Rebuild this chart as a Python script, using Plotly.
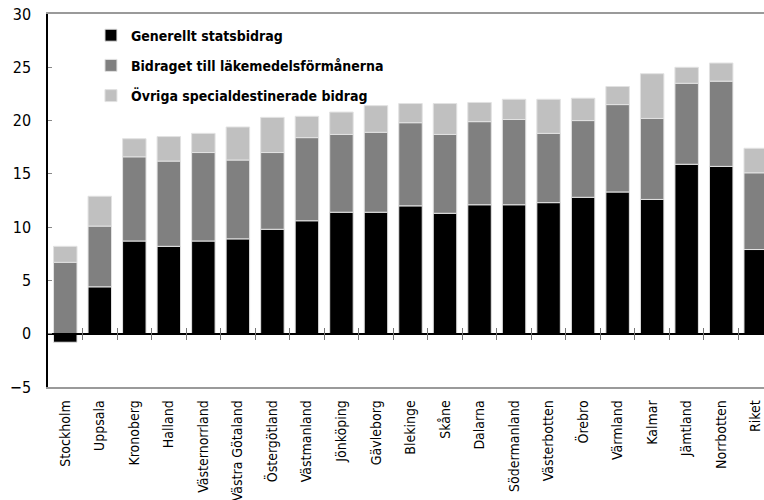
import plotly.graph_objects as go

categories = ["Stockholm", "Uppsala", "Kronoberg", "Halland", "Västernorrland",
              "Västra Götaland", "Östergötland", "Västmanland", "Jönköping", "Gävleborg",
              "Blekinge", "Skåne", "Dalarna", "Södermanland", "Västerbotten",
              "Örebro", "Värmland", "Kalmar", "Jämtland", "Norrbotten", "Riket"]
generellt = [-0.8, 4.4, 8.7, 8.2, 8.7, 8.9, 9.8, 10.6, 11.4, 11.4,
             12.0, 11.3, 12.1, 12.1, 12.3, 12.8, 13.3, 12.6, 15.9, 15.7, 7.9]
lakemedel = [6.7, 5.7, 7.9, 8.0, 8.3, 7.4, 7.2, 7.8, 7.3, 7.5,
             7.8, 7.4, 7.8, 8.0, 6.5, 7.2, 8.2, 7.6, 7.6, 8.0, 7.2]
ovriga = [1.5, 2.8, 1.7, 2.3, 1.8, 3.1, 3.3, 2.0, 2.1, 2.5,
          1.8, 2.9, 1.8, 1.9, 3.2, 2.1, 1.7, 4.2, 1.5, 1.7, 2.3]
series_names = ["Generellt statsbidrag", "Bidraget till läkemedelsförmånerna",
                "Övriga specialdestinerade bidrag"]
series_colors = ["#000000", "#808080", "#c0c0c0"]
y_ticks = [-5, 0, 5, 10, 15, 20, 25, 30]

FONT = "Liberation Sans Narrow, DejaVu Sans Condensed, Arial Narrow, sans-serif"
idx = list(range(len(categories)))

fig = go.Figure()
for i, (name, vals) in enumerate(zip(series_names, [generellt, lakemedel, ovriga])):
    fig.add_trace(go.Bar(
        x=idx, y=vals, name=name, legendgroup=f"g{i}",
        marker=dict(color=series_colors[i], line=dict(color="#e2e2e2", width=1)),
    ))

# invisible carriers so the zero-line tick axes are drawn
for ax in ["x2", "x3"]:
    fig.add_trace(go.Scatter(x=[idx[0], idx[-1]], y=[0, 0], xaxis=ax, yaxis="y",
                             mode="lines", line=dict(width=0, color="rgba(0,0,0,0)"),
                             showlegend=False, hoverinfo="skip"))

ymin, ymax = y_ticks[0], y_ticks[-1]
zero_pos = (0 - ymin) / (ymax - ymin)
xrange = [-0.5, 20.24]
bounds = [i + 0.5 for i in idx[:-1]]

fig.update_layout(
    width=764, height=500,
    margin=dict(l=48, r=0, t=14, b=113),
    paper_bgcolor="white", plot_bgcolor="white",
    barmode="relative", bargap=0.32,
    font=dict(family=FONT, size=15, color="#000000"),
    legend=dict(x=0.06, y=0.985, xanchor="left", yanchor="top",
                bgcolor="rgba(0,0,0,0)", traceorder="grouped",
                tracegroupgap=9, itemwidth=30,
                font=dict(family=FONT, size=14, color="#000000", weight="bold")),
    xaxis=dict(range=xrange, tickmode="array", tickvals=idx, ticktext=categories,
               tickangle=-90, showgrid=False, zeroline=False, automargin=False,
               showline=True, linecolor="#9a9a9a", linewidth=1.5, mirror=True,
               ticks="", ticklabelstandoff=6,
               tickfont=dict(family=FONT, size=14)),
    xaxis2=dict(overlaying="x", anchor="free", position=zero_pos, range=xrange,
                side="bottom",
                tickmode="array", tickvals=bounds, automargin=False,
                ticks="outside", ticklen=6, tickcolor="#777777", tickwidth=1.2,
                showticklabels=False, showgrid=False, zeroline=False,
                showline=True, linecolor="#000000", linewidth=1.5),
    xaxis3=dict(overlaying="x", anchor="free", position=zero_pos, range=xrange,
                side="top",
                tickmode="array", tickvals=bounds, automargin=False,
                ticks="outside", ticklen=6, tickcolor="#777777", tickwidth=1.2,
                showticklabels=False, showgrid=False, zeroline=False,
                showline=False),
    yaxis=dict(range=[ymin, ymax], tickmode="array", tickvals=y_ticks,
               showgrid=False, zeroline=False, automargin=False,
               showline=True, linecolor="#000000", linewidth=1.5,
               ticks="inside", ticklen=4, tickcolor="#888888",
               ticklabelstandoff=12,
               tickfont=dict(family=FONT, size=16)),
)

fig.write_html("out.html", config={"displayModeBar": False},
               post_script="document.body.style.margin='0';document.body.style.overflow='hidden';")
